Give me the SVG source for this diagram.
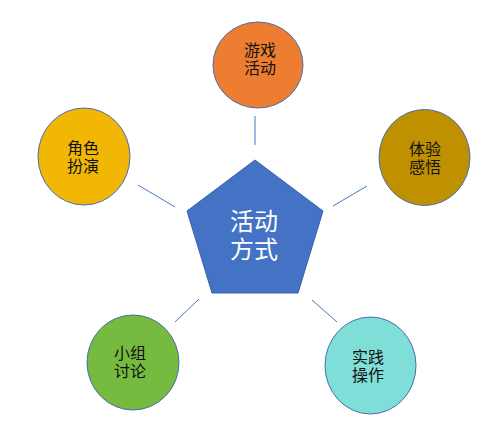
<svg xmlns="http://www.w3.org/2000/svg" width="491" height="444" viewBox="0 0 491 444">
<style>
.n{stroke:#4A6EB0;stroke-width:1}
.t{font-family:"Noto Sans CJK SC","Noto Sans",sans-serif;font-size:16px;fill:#111;text-anchor:middle}
.w{font-family:"Noto Sans CJK SC","Noto Sans",sans-serif;font-size:24px;fill:#fff;text-anchor:middle}
.c{stroke:#4A76C8;stroke-width:1;fill:none}
</style>
<rect width="491" height="444" fill="#fff"/>
<g id="connectors">
<line class="c" x1="255" y1="116" x2="255" y2="145"/>
<line class="c" x1="138" y1="185" x2="175" y2="207"/>
<line class="c" x1="333" y1="206" x2="367" y2="186"/>
<line class="c" x1="175" y1="322" x2="199" y2="299"/>
<line class="c" x1="312" y1="300" x2="337" y2="322"/>
</g>
<g id="center">
<polygon points="255,160 323,211 298,293 212,293 187,211" fill="#4472C4" stroke="#3A62A8" stroke-width="1"/>
<text class="w"><tspan x="254" y="230">活动</tspan><tspan x="254" y="258">方式</tspan></text>
</g>
<g id="youxi">
<ellipse class="n" cx="258" cy="65" rx="45" ry="43" fill="#ED7D31"/>
<text class="t"><tspan x="260" y="56">游戏</tspan><tspan x="260" y="74">活动</tspan></text>
</g>
<g id="tiyan">
<ellipse class="n" cx="424.5" cy="157.5" rx="45.5" ry="48" fill="#BF9000"/>
<text class="t"><tspan x="425" y="155">体验</tspan><tspan x="425" y="173">感悟</tspan></text>
</g>
<g id="juese">
<ellipse class="n" cx="84" cy="156.5" rx="46" ry="48.5" fill="#F2B705"/>
<text class="t"><tspan x="83" y="154">角色</tspan><tspan x="83" y="172">扮演</tspan></text>
</g>
<g id="xiaozu">
<ellipse class="n" cx="133" cy="362.5" rx="46" ry="47.5" fill="#76BB40"/>
<text class="t"><tspan x="130" y="359">小组</tspan><tspan x="130" y="377">讨论</tspan></text>
</g>
<g id="shijian">
<ellipse class="n" cx="370.5" cy="365.5" rx="45.5" ry="48.5" fill="#7FDFD8"/>
<text class="t"><tspan x="368" y="363">实践</tspan><tspan x="368" y="381">操作</tspan></text>
</g>
</svg>
